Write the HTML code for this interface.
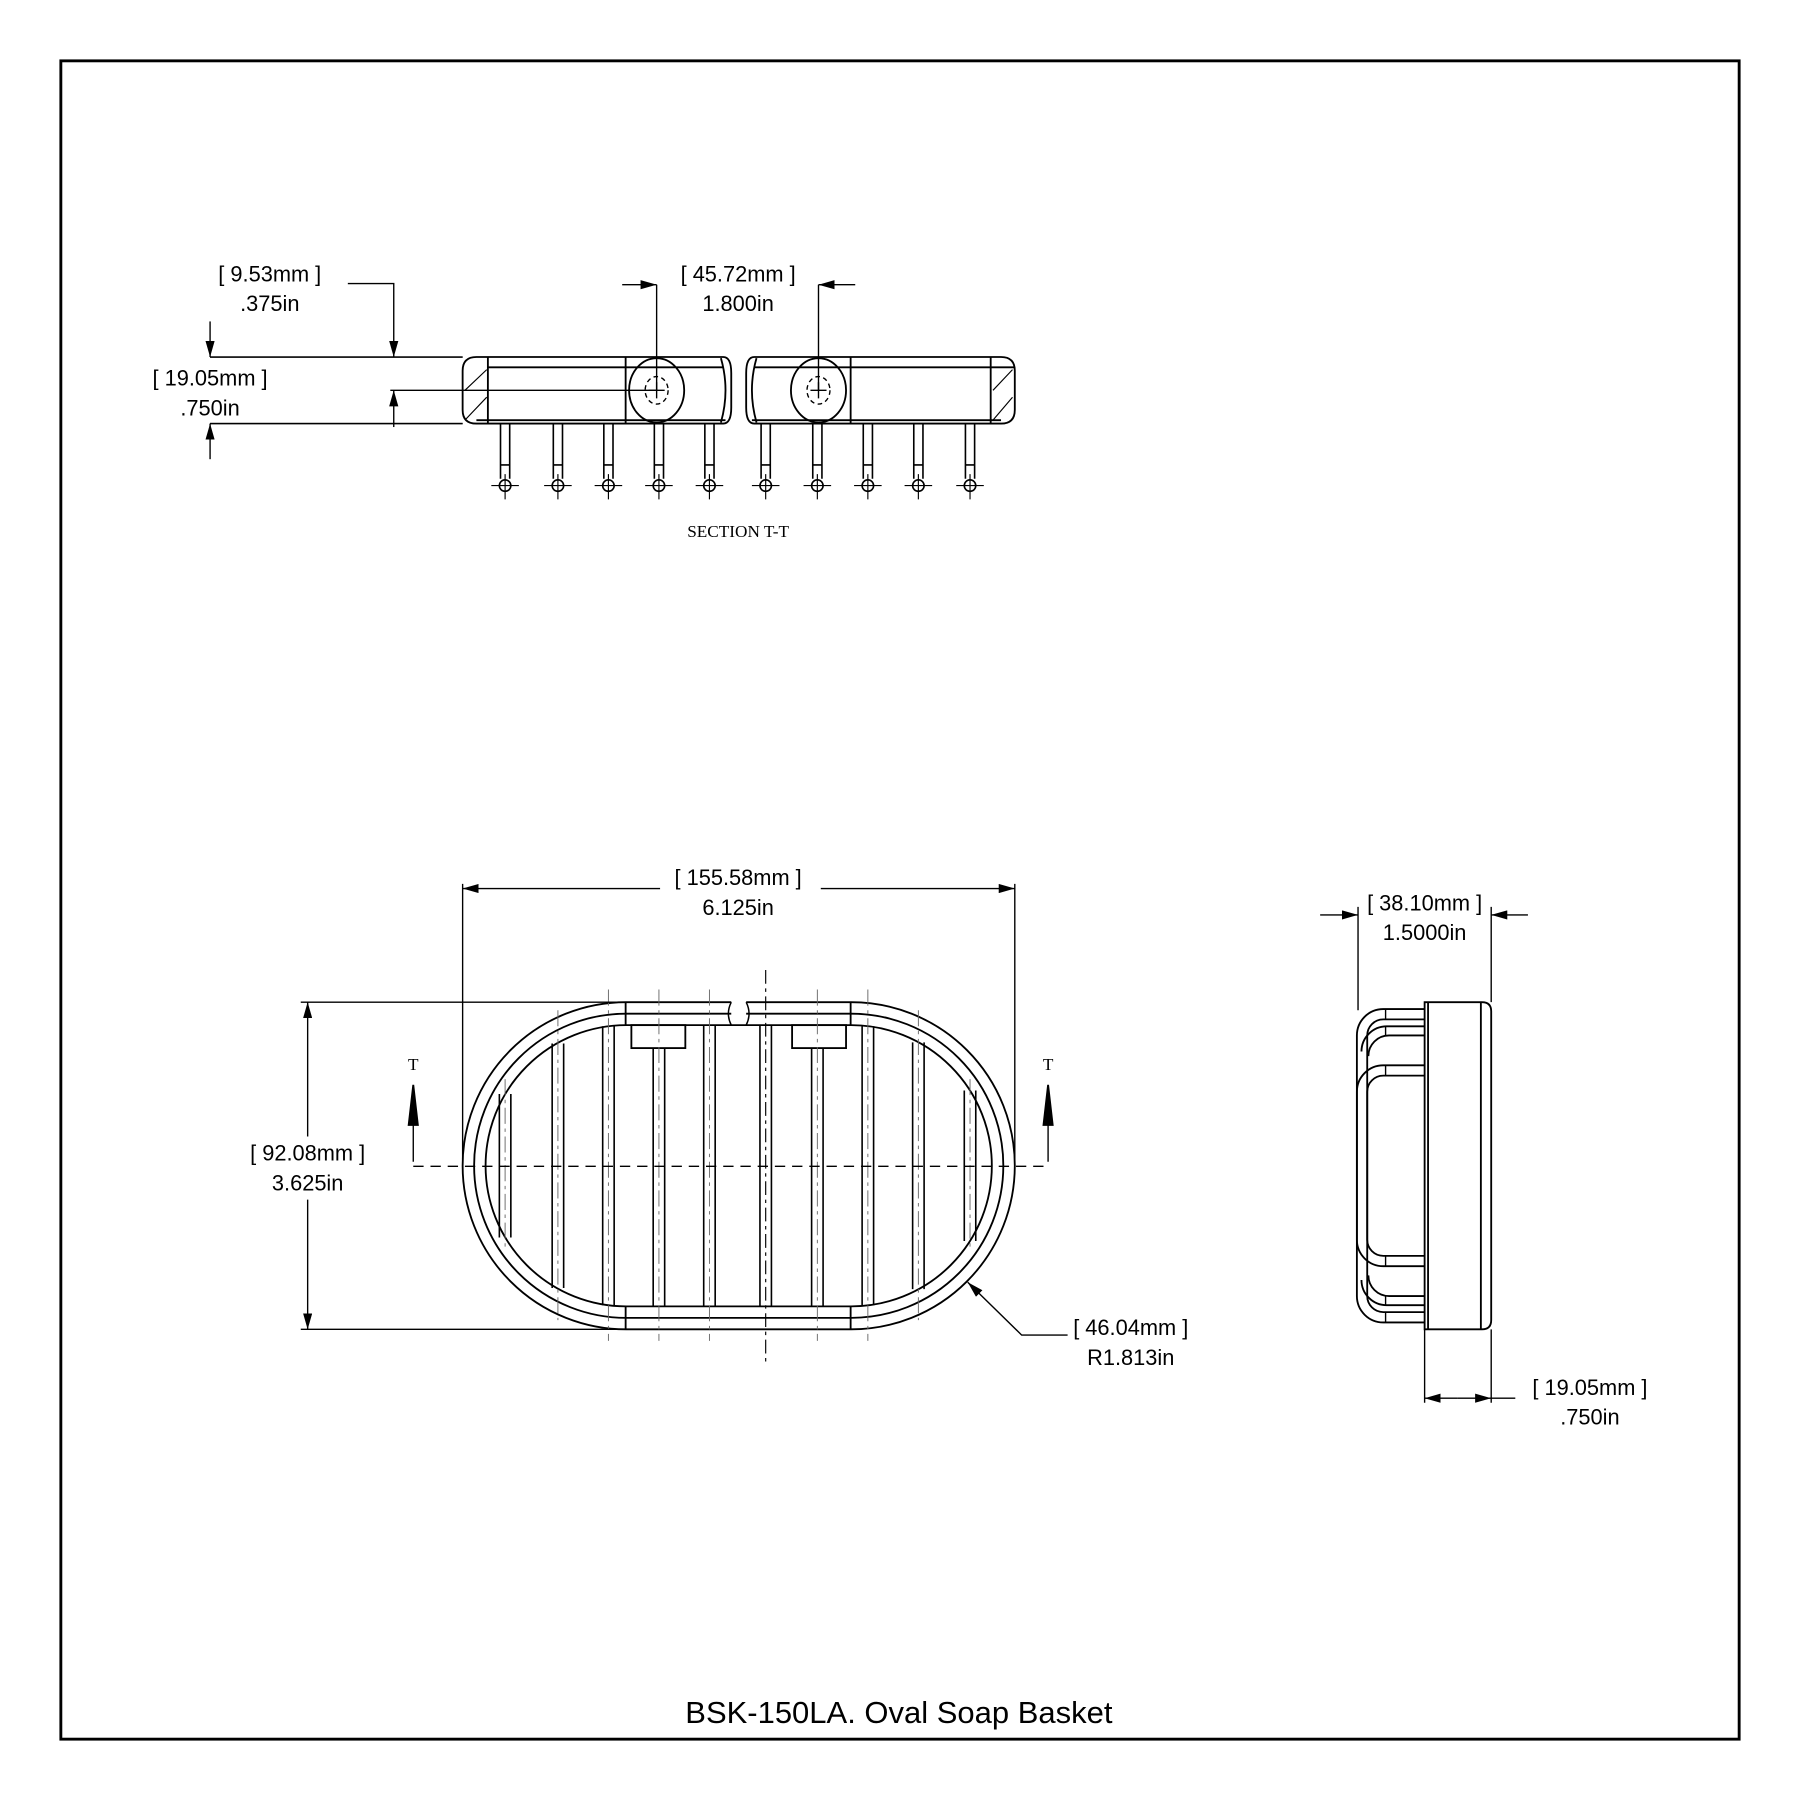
<!DOCTYPE html>
<html><head><meta charset="utf-8"><style>
html,body{margin:0;padding:0;background:#fff}
svg{display:block}
text{font-family:"Liberation Sans",sans-serif;font-size:19px;fill:#000}
.s{font-family:"Liberation Serif",serif;font-size:15px}
</style></head><body>
<svg width="1800" height="1800" viewBox="0 0 1568 1568" xmlns="http://www.w3.org/2000/svg">
<defs>
<marker id="a" viewBox="0 0 14 8" refX="14" refY="4" markerWidth="14" markerHeight="8" markerUnits="userSpaceOnUse" orient="auto"><path d="M0,0L14,4L0,8z" fill="#000"/></marker>
</defs>
<rect x="53" y="53" width="1462" height="1462" fill="none" stroke="#000" stroke-width="2.5"/>
<g fill="none" stroke="#000" stroke-width="1.6">
<!-- SECTION view -->
<path d="M415,311H630Q637,311 637,325V355Q637,369 630,369H415Q403,369 403,357V323Q403,311 415,311Z"/>
<path d="M425,311V369M425,320H630M415,366H632M545,311V369"/>
<path d="M628,312Q636,340 628,368"/>
<path d="M405,340L424,322M405,366L424,346" stroke-width="1"/>
<ellipse cx="572" cy="340" rx="24" ry="28"/>
<ellipse cx="572" cy="340" rx="10" ry="12" stroke-dasharray="4,3" stroke-width="1.2"/>
<path d="M565,340H579M572,333V347" stroke-width="1.2"/>
<path d="M657,311H872Q884,311 884,323V357Q884,369 872,369H657Q650,369 650,355V325Q650,311 657,311Z"/>
<path d="M863,311V369M657,320H884M655,366H872M741,311V369"/>
<path d="M659,312Q651,340 659,368"/>
<path d="M865,366L882,346M865,340L882,322" stroke-width="1"/>
<ellipse cx="713" cy="340" rx="24" ry="28"/>
<ellipse cx="713" cy="340" rx="10" ry="12" stroke-dasharray="4,3" stroke-width="1.2"/>
<path d="M706,340H720M713,333V347" stroke-width="1.2"/>
<g stroke-width="1.4">
<path d="M436,369V417M444,369V417M482,369V417M490,369V417M526,369V417M534,369V417M570,369V417M578,369V417M614,369V417M622,369V417M663,369V417M671,369V417M708,369V417M716,369V417M752,369V417M760,369V417M796,369V417M804,369V417M841,369V417M849,369V417"/>
<path d="M436,405H444M482,405H490M526,405H534M570,405H578M614,405H622M663,405H671M708,405H716M752,405H760M796,405H804M841,405H849"/>
<circle cx="440" cy="423" r="5"/><circle cx="486" cy="423" r="5"/><circle cx="530" cy="423" r="5"/><circle cx="574" cy="423" r="5"/><circle cx="618" cy="423" r="5"/>
<circle cx="667" cy="423" r="5"/><circle cx="712" cy="423" r="5"/><circle cx="756" cy="423" r="5"/><circle cx="800" cy="423" r="5"/><circle cx="845" cy="423" r="5"/>
</g>
<path stroke-width="1" d="M428,423H452M440,413V435M474,423H498M486,413V435M518,423H542M530,413V435M562,423H586M574,413V435M606,423H630M618,413V435M655,423H679M667,413V435M700,423H724M712,413V435M744,423H768M756,413V435M788,423H812M800,413V435M833,423H857M845,413V435"/>
<!-- section dims -->
<path stroke-width="1.2" d="M183,311H403M183,369H403M340,340H572M303,247H343V311" marker-end="url(#a)"/>
<path stroke-width="1.2" d="M183,311H403M183,369H403"/>
<path stroke-width="1.2" d="M183,280V311" marker-end="url(#a)"/>
<path stroke-width="1.2" d="M183,400V369" marker-end="url(#a)"/>
<path stroke-width="1.2" d="M343,372V340" marker-end="url(#a)"/>
<path stroke-width="1.2" d="M572,248V340M713,248V340"/>
<path stroke-width="1.2" d="M542,248H572" marker-end="url(#a)"/>
<path stroke-width="1.2" d="M745,248H713" marker-end="url(#a)"/>

<!-- MAIN view rings -->
<path d="M545.5,873H637M650,873H741.5A142.5,142.5 0 0 1 741.5,1158H545.5A142.5,142.5 0 0 1 545.5,873"/>
<path d="M545.5,883H637M650,883H741.5A132.5,132.5 0 0 1 741.5,1148H545.5A132.5,132.5 0 0 1 545.5,883"/>
<path d="M545.5,893H741.5A122.5,122.5 0 0 1 741.5,1138H545.5A122.5,122.5 0 0 1 545.5,893"/>
<path d="M545,873V893M741,873V893M545,1138V1158M741,1138V1158"/>
<path d="M637,873Q632,883 637,893M650,873Q655,883 650,893" stroke-width="1.3"/>
<rect x="550" y="893" width="47" height="20"/><rect x="690" y="893" width="47" height="20"/>
<g stroke-width="1.4">
<path d="M435,953V1078M445,953V1078M481,909V1122M491,909V1122M525,894V1137M535,894V1137M569,913V1138M579,913V1138M613,893V1138M623,893V1138M662,893V1138M672,893V1138M707,913V1138M717,913V1138M751,894V1137M761,894V1137M795,908V1123M805,908V1123M840,950V1081M850,950V1081"/>
</g>
<g stroke="#666" stroke-width="0.8" stroke-dasharray="14,4,3,4">
<path d="M440,940V1090M486,880V1150M530,862V1168M574,862V1168M618,862V1168M712,862V1168M756,862V1168M800,880V1150M845,940V1090"/>
</g>
<path stroke-width="1" stroke-dasharray="12,4,3,4" d="M667,845V1190"/>
<path stroke-width="1.2" stroke-dasharray="9,6" d="M360,1016H915"/>
<!-- main dims -->
<path stroke-width="1.2" d="M403,770V1010M884,770V1010M262,873H545M262,1158H545"/>
<path stroke-width="1.2" d="M575,774H403" marker-end="url(#a)"/>
<path stroke-width="1.2" d="M715,774H884" marker-end="url(#a)"/>
<path stroke-width="1.2" d="M268,990V873" marker-end="url(#a)"/>
<path stroke-width="1.2" d="M268,1045V1158" marker-end="url(#a)"/>
<path stroke-width="1.2" d="M930,1163H890L843,1117" marker-end="url(#a)"/>
<path d="M356,980L360,945L364,980Z" fill="#000"/><path d="M360,980V1012" stroke-width="1.2"/>
<path d="M909,980L913,945L917,980Z" fill="#000"/><path d="M913,980V1012" stroke-width="1.2"/>

<!-- SIDE view -->
<path d="M1241,873H1291Q1299,873 1299,881V1150Q1299,1158 1291,1158H1241Z"/>
<path d="M1244,873V1158M1290,873V1158"/>
<path d="M1241,879H1205A23,23 0 0 0 1182,902V1129A23,23 0 0 0 1205,1152H1241"/>
<path d="M1241,888H1205A14,14 0 0 0 1191,902V1129A14,14 0 0 0 1205,1143H1241"/>
<path d="M1241,894H1208A22,22 0 0 0 1186,916M1241,902H1210A18,18 0 0 0 1192,920M1241,1137H1208A22,22 0 0 1 1186,1115M1241,1129H1210A18,18 0 0 1 1192,1111"/>
<path d="M1241,928H1205A23,23 0 0 0 1182,951V1080A23,23 0 0 0 1205,1103H1241"/>
<path d="M1241,937H1205A14,14 0 0 0 1191,951V1080A14,14 0 0 0 1205,1094H1241"/>
<path stroke-width="1.2" d="M1207,879V888M1207,894V902M1207,928V937M1207,1094V1103M1207,1129V1137M1207,1143V1152"/>
<path stroke-width="1.2" d="M1183,790V880M1299,790V873M1241,1158V1222M1299,1158V1222"/>
<path stroke-width="1.2" d="M1150,797H1183" marker-end="url(#a)"/>
<path stroke-width="1.2" d="M1331,797H1299" marker-end="url(#a)"/>
<path stroke-width="1.2" d="M1270,1218H1241" marker-end="url(#a)"/>
<path stroke-width="1.2" d="M1270,1218H1299" marker-end="url(#a)"/>
<path stroke-width="1.2" d="M1299,1218H1320"/>
</g>
<g text-anchor="middle">
<text x="235" y="245">[ 9.53mm ]</text><text x="235" y="271">.375in</text>
<text x="183" y="336">[ 19.05mm ]</text><text x="183" y="362">.750in</text>
<text x="643" y="245">[ 45.72mm ]</text><text x="643" y="271">1.800in</text>
<text class="s" x="643" y="468">SECTION T-T</text>
<text x="643" y="771">[ 155.58mm ]</text><text x="643" y="797">6.125in</text>
<text x="268" y="1011">[ 92.08mm ]</text><text x="268" y="1037">3.625in</text>
<text class="s" x="360" y="932">T</text><text class="s" x="913" y="932">T</text>
<text x="985" y="1163">[ 46.04mm ]</text><text x="985" y="1189">R1.813in</text>
<text x="1241" y="793">[ 38.10mm ]</text><text x="1241" y="819">1.5000in</text>
<text x="1385" y="1215">[ 19.05mm ]</text><text x="1385" y="1241">.750in</text>
<text x="783" y="1501" style="font-size:27px">BSK-150LA. Oval Soap Basket</text>
</g>
</svg>
</body></html>
